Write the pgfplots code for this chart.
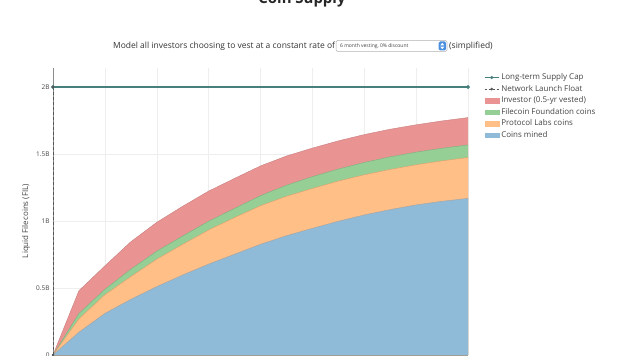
\documentclass[border=0pt]{standalone}
\usepackage{fontspec}
\setmainfont{Open Sans}
\usepackage{pgfplots}
\pgfplotsset{compat=1.18}
\usepackage{pgfplotstable}

\definecolor{cmined}{HTML}{8FBBD9}
\definecolor{cpl}{HTML}{FFBF86}
\definecolor{cfound}{HTML}{95CF95}
\definecolor{cinv}{HTML}{EA9393}
\definecolor{ccap}{HTML}{467F7C}
\definecolor{cfloat}{HTML}{555555}
\definecolor{txt}{HTML}{444444}
\definecolor{gridc}{HTML}{EEEEEE}
\definecolor{ddblue}{HTML}{4A8FE0}

% per-layer values (billions of FIL)
\pgfplotstableread{
x    mined  pl     found  inv
0    0      0      0      0
0.5  0.17   0.10   0.04   0.17
1    0.31   0.14   0.04   0.175
1.5  0.415  0.17   0.055  0.205
2    0.51   0.205  0.06   0.215
2.5  0.597  0.229  0.062  0.222
3    0.678  0.255  0.065  0.225
3.5  0.752  0.274  0.068  0.224
4    0.826  0.288  0.075  0.222
4.5  0.89   0.295  0.082  0.218
5    0.945  0.298  0.088  0.213
5.5  0.998  0.30   0.09   0.21
6    1.045  0.30   0.092  0.208
6.5  1.085  0.30   0.094  0.206
7    1.12   0.30   0.094  0.204
7.5  1.147  0.302  0.094  0.204
8    1.169  0.305  0.094  0.204
}\supply

\begin{document}
\begin{tikzpicture}[x=1bp,y=1bp]
\path[use as bounding box] (0bp,0bp) rectangle (640bp,356bp);
\clip (0bp,0bp) rectangle (640bp,356bp);

% title (cut at top as in the reference)
\node[font=\fontsize{15}{18}\selectfont\bfseries, text=black!85, anchor=base, inner sep=0pt] at (302bp,352bp) {Coin Supply};

% control line
\node[font=\fontsize{8.5}{10}\selectfont, text=black!80, anchor=base west, inner sep=0pt] at (113bp,307bp) {Model all investors choosing to vest at a constant rate of};
\draw[black!30, fill=white, rounded corners=1.5bp, line width=0.5pt] (336bp,304.5bp) rectangle (447bp,315.5bp);
\node[font=\fontsize{5}{6}\selectfont, text=black!75, anchor=west, inner sep=0pt] at (340bp,310bp) {6 month vesting, 0\% discount};
\fill[ddblue, rounded corners=1.5bp] (438.5bp,305.5bp) rectangle (446bp,314.5bp);
\fill[white] (440.3bp,310.7bp) -- (444.2bp,310.7bp) -- (442.25bp,313.2bp) -- cycle;
\fill[white] (440.3bp,309.3bp) -- (444.2bp,309.3bp) -- (442.25bp,306.8bp) -- cycle;
\node[font=\fontsize{8.5}{10}\selectfont, text=black!80, anchor=base west, inner sep=0pt] at (449bp,307bp) {(simplified)};

\begin{axis}[
  at={(53bp,1bp)}, anchor=south west,
  scale only axis, width=415bp, height=287bp,
  xmin=0, xmax=8, ymin=0, ymax=2.142,
  axis x line*=bottom, axis y line*=left,
  axis line style={draw=black!45, line width=0.6pt},
  xtick={0,...,8}, xticklabels={},
  ytick={0,0.5,1,1.5,2}, yticklabels={0,0.5B,1B,1.5B,2B},
  major tick length=0pt,
  grid=major, major grid style={gridc, line width=0.5pt},
  yticklabel style={font=\fontsize{6.5}{7}\selectfont, text=txt},
  clip=false,
  legend style={at={(1,1)}, anchor=north west, xshift=16bp, yshift=-5bp,
    draw=none, fill=none, font=\fontsize{8}{9}\selectfont, text=txt,
    row sep=2.8bp, column sep=1.5bp, inner sep=0pt,
    nodes={inner sep=0.6bp, text height=6bp, text depth=1.5bp}},
  legend cell align=left,
]
% stacked areas, drawn from the top layer down
\addplot[forget plot, fill=cinv, draw=none] table[x=x, y expr=\thisrow{mined}+\thisrow{pl}+\thisrow{found}+\thisrow{inv}] {\supply} \closedcycle;
\addplot[forget plot, fill=cfound, draw=none] table[x=x, y expr=\thisrow{mined}+\thisrow{pl}+\thisrow{found}] {\supply} \closedcycle;
\addplot[forget plot, fill=cpl, draw=none] table[x=x, y expr=\thisrow{mined}+\thisrow{pl}] {\supply} \closedcycle;
\addplot[forget plot, fill=cmined, draw=none] table[x=x, y=mined] {\supply} \closedcycle;
% boundary lines
\addplot[forget plot, no marks, draw=cinv!85!black, line width=0.4pt] table[x=x, y expr=\thisrow{mined}+\thisrow{pl}+\thisrow{found}+\thisrow{inv}] {\supply};
\addplot[forget plot, no marks, draw=cfound!85!black, line width=0.4pt] table[x=x, y expr=\thisrow{mined}+\thisrow{pl}+\thisrow{found}] {\supply};
\addplot[forget plot, no marks, draw=cpl!85!black, line width=0.4pt] table[x=x, y expr=\thisrow{mined}+\thisrow{pl}] {\supply};
\addplot[forget plot, no marks, draw=black!35, line width=0.5pt] table[x=x, y=mined] {\supply};
% reference lines
\addplot[forget plot, ccap, line width=1.2pt, mark=*, mark size=1.2pt] coordinates {(0,2) (8,2)};
\addplot[forget plot, cfloat, line width=0.8pt, dash pattern=on 3bp off 2bp, mark=*, mark size=0.9pt, mark options={solid}] coordinates {(0,0) (0,2)};

% legend
\addlegendimage{legend image code/.code={\draw[ccap, line width=1pt] (0bp,0bp) -- (14bp,0bp); \fill[ccap] (7bp,0bp) circle (1.4bp);}}
\addlegendimage{legend image code/.code={\draw[cfloat, line width=0.8pt, dash pattern=on 2.5bp off 1.5bp] (0bp,0bp) -- (14bp,0bp); \fill[cfloat] (7bp,0bp) circle (1.2bp);}}
\addlegendimage{legend image code/.code={\fill[cinv] (0bp,-2.2bp) rectangle (14bp,2.2bp);}}
\addlegendimage{legend image code/.code={\fill[cfound] (0bp,-2.2bp) rectangle (14bp,2.2bp);}}
\addlegendimage{legend image code/.code={\fill[cpl] (0bp,-2.2bp) rectangle (14bp,2.2bp);}}
\addlegendimage{legend image code/.code={\fill[cmined] (0bp,-2.2bp) rectangle (14bp,2.2bp);}}
\legend{Long-term Supply Cap, Network Launch Float, Investor (0.5-yr vested), Filecoin Foundation coins, Protocol Labs coins, Coins mined}
\end{axis}

\node[rotate=90, font=\fontsize{8}{9}\selectfont, text=txt] at (26bp,135bp) {Liquid Filecoins (FIL)};
\end{tikzpicture}
\end{document}
